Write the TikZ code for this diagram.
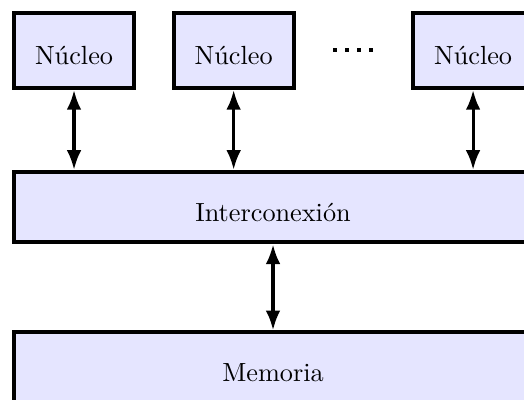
\documentclass[tikz,border=0pt]{standalone}
\usetikzlibrary{arrows.meta,calc}
\begin{document}
\begin{tikzpicture}[x=1pt,y=1pt,
        bloque/.style={draw,ultra thick,fill=blue!10,inner sep=0pt,
                       text height=11pt,text depth=0pt},
        nucleo/.style={bloque,minimum width=45.7pt,minimum height=28.6pt},
        ancho/.style={bloque,minimum width=197.4pt,minimum height=26.8pt},
        flecha/.style={very thick,
                       {Latex[length=7.5pt,width=5.6pt]}-{Latex[length=7.5pt,width=5.6pt]}},
        suspensivos/.style={line width=1.52pt,dash pattern=on 1.52pt off 3.05pt}]
    \useasboundingbox (0,0) rectangle (199.6,-152);

    % fila de nucleos
    \node[nucleo] (n1) at (28.2,-19.2) {Núcleo};
    \node[nucleo] (n2) at (89,-19.2) {Núcleo};
    \node[nucleo] (n3) at (180.2,-19.2) {Núcleo};
    \coordinate (puntos) at ($(n2.east)!0.5!(n3.west)$);
    \draw[suspensivos] ([xshift=-7.6pt]puntos) -- ([xshift=7.6pt]puntos);

    % bus y memoria
    \node[ancho] (red) at (104,-78.9) {Interconexión};
    \node[ancho] (mem) at (104,-140) {Memoria};

    \draw[flecha] (n1.south) -- (n1.south |- red.north);
    \draw[flecha] (n2.south) -- (n2.south |- red.north);
    \draw[flecha] (n3.south) -- (n3.south |- red.north);
    \draw[flecha] (red.south) -- (mem.north);
\end{tikzpicture}
\end{document}
